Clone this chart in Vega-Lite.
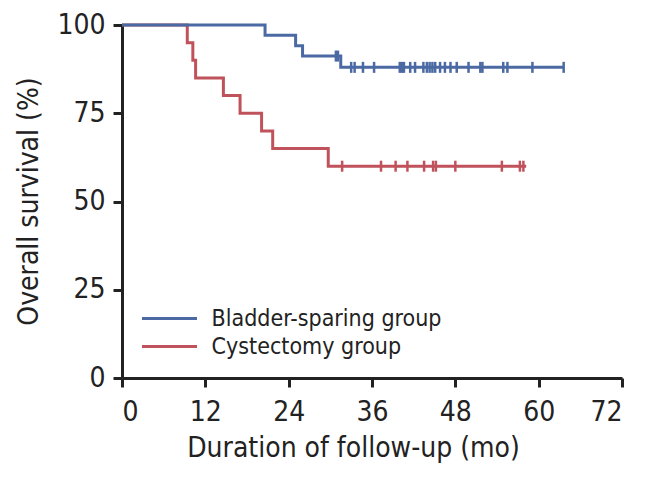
{
  "$schema": "https://vega.github.io/schema/vega-lite/v6.json",
  "width": 500,
  "height": 353,
  "autosize": {"type": "none"},
  "padding": {"left": 122, "top": 25, "right": 27, "bottom": 99},
  "background": "white",
  "config": {
    "font": "Liberation Sans Narrow, DejaVu Sans Condensed, Roboto",
    "view": {"stroke": null},
    "axis": {
      "domainColor": "#222222", "domainWidth": 3, "tickColor": "#222222", "tickWidth": 3, "tickSize": 9,
      "labelColor": "#222222", "titleColor": "#222222", "labelFontSize": 28, "titleFontSize": 28,
      "labelFont": "Liberation Sans Narrow, DejaVu Sans Condensed, Roboto",
      "titleFont": "Liberation Sans Narrow, DejaVu Sans Condensed, Roboto",
      "titleFontWeight": "normal", "grid": false
    }
  },
  "datasets": {
    "curves": [
      {"group": "Bladder-sparing group", "time": 0, "surv": 100},
      {"group": "Bladder-sparing group", "time": 20.6, "surv": 97.1},
      {"group": "Bladder-sparing group", "time": 25.0, "surv": 94.1},
      {"group": "Bladder-sparing group", "time": 26.0, "surv": 91.2},
      {"group": "Bladder-sparing group", "time": 31.5, "surv": 88.0},
      {"group": "Bladder-sparing group", "time": 63.6, "surv": 88.0},
      {"group": "Cystectomy group", "time": 0, "surv": 100},
      {"group": "Cystectomy group", "time": 9.4, "surv": 95},
      {"group": "Cystectomy group", "time": 10.2, "surv": 90},
      {"group": "Cystectomy group", "time": 10.6, "surv": 85},
      {"group": "Cystectomy group", "time": 14.6, "surv": 80},
      {"group": "Cystectomy group", "time": 17.0, "surv": 75},
      {"group": "Cystectomy group", "time": 20.1, "surv": 70},
      {"group": "Cystectomy group", "time": 21.7, "surv": 65},
      {"group": "Cystectomy group", "time": 29.7, "surv": 60},
      {"group": "Cystectomy group", "time": 58.2, "surv": 60}
    ],
    "censors": [
      {"group": "Bladder-sparing group", "time": 30.8, "surv": 91.2},
      {"group": "Bladder-sparing group", "time": 31.1, "surv": 91.2},
      {"group": "Bladder-sparing group", "time": 33.0, "surv": 88.0},
      {"group": "Bladder-sparing group", "time": 33.5, "surv": 88.0},
      {"group": "Bladder-sparing group", "time": 34.7, "surv": 88.0},
      {"group": "Bladder-sparing group", "time": 36.3, "surv": 88.0},
      {"group": "Bladder-sparing group", "time": 40.0, "surv": 88.0},
      {"group": "Bladder-sparing group", "time": 40.3, "surv": 88.0},
      {"group": "Bladder-sparing group", "time": 40.6, "surv": 88.0},
      {"group": "Bladder-sparing group", "time": 41.5, "surv": 88.0},
      {"group": "Bladder-sparing group", "time": 42.2, "surv": 88.0},
      {"group": "Bladder-sparing group", "time": 43.4, "surv": 88.0},
      {"group": "Bladder-sparing group", "time": 43.9, "surv": 88.0},
      {"group": "Bladder-sparing group", "time": 44.3, "surv": 88.0},
      {"group": "Bladder-sparing group", "time": 44.7, "surv": 88.0},
      {"group": "Bladder-sparing group", "time": 45.1, "surv": 88.0},
      {"group": "Bladder-sparing group", "time": 45.8, "surv": 88.0},
      {"group": "Bladder-sparing group", "time": 46.5, "surv": 88.0},
      {"group": "Bladder-sparing group", "time": 47.3, "surv": 88.0},
      {"group": "Bladder-sparing group", "time": 48.2, "surv": 88.0},
      {"group": "Bladder-sparing group", "time": 49.9, "surv": 88.0},
      {"group": "Bladder-sparing group", "time": 51.6, "surv": 88.0},
      {"group": "Bladder-sparing group", "time": 51.9, "surv": 88.0},
      {"group": "Bladder-sparing group", "time": 54.9, "surv": 88.0},
      {"group": "Bladder-sparing group", "time": 55.5, "surv": 88.0},
      {"group": "Bladder-sparing group", "time": 59.1, "surv": 88.0},
      {"group": "Bladder-sparing group", "time": 63.6, "surv": 88.0},
      {"group": "Cystectomy group", "time": 31.7, "surv": 60},
      {"group": "Cystectomy group", "time": 37.3, "surv": 60},
      {"group": "Cystectomy group", "time": 39.4, "surv": 60},
      {"group": "Cystectomy group", "time": 41.1, "surv": 60},
      {"group": "Cystectomy group", "time": 43.5, "surv": 60},
      {"group": "Cystectomy group", "time": 44.8, "surv": 60},
      {"group": "Cystectomy group", "time": 45.2, "surv": 60},
      {"group": "Cystectomy group", "time": 48.0, "surv": 60},
      {"group": "Cystectomy group", "time": 54.7, "surv": 60},
      {"group": "Cystectomy group", "time": 57.3, "surv": 60},
      {"group": "Cystectomy group", "time": 57.8, "surv": 60}
    ]
  },
  "layer": [
    {
      "data": {"name": "curves"},
      "transform": [{"filter": "datum.group === 'Cystectomy group'"}],
      "mark": {"type": "line", "interpolate": "step-after", "strokeWidth": 3},
      "encoding": {
        "x": {"field": "time", "type": "quantitative", "scale": {"domain": [0, 72], "nice": false},
          "axis": {"values": [0, 12, 24, 36, 48, 60, 72], "title": "Duration of follow-up (mo)", "labelPadding": 11,
            "titleX": 231, "titleY": 70, "titleBaseline": "middle", "titleAnchor": null}},
        "y": {"field": "surv", "type": "quantitative", "scale": {"domain": [0, 100], "nice": false},
          "axis": {"values": [0, 25, 50, 75, 100], "title": "Overall survival (%)", "labelPadding": 8,
            "titleX": -93, "titleY": 176, "titleAngle": 270, "titleBaseline": "middle", "titleAlign": "center"}},
        "color": {"field": "group", "type": "nominal",
          "scale": {"domain": ["Bladder-sparing group", "Cystectomy group"], "range": ["#4b69a3", "#c0525c"]},
          "legend": {"title": null, "orient": "none", "legendX": 36, "legendY": 282, "symbolType": "M-4,0H4",
            "symbolSize": 189, "symbolStrokeWidth": 3, "labelFontSize": 23, "labelColor": "#222222", "labelLimit": 0,
            "labelFont": "Liberation Sans Narrow, DejaVu Sans Condensed, Roboto", "labelOffset": 30.6, "padding": 0, "rowPadding": 4}}
      }
    },
    {
      "data": {"name": "curves"},
      "transform": [{"filter": "datum.group === 'Bladder-sparing group'"}],
      "mark": {"type": "line", "interpolate": "step-after", "strokeWidth": 3},
      "encoding": {
        "x": {"field": "time", "type": "quantitative"},
        "y": {"field": "surv", "type": "quantitative"},
        "color": {"field": "group", "type": "nominal"}
      }
    },
    {
      "data": {"name": "censors"},
      "mark": {"type": "tick", "orient": "vertical", "size": 11, "thickness": 2.5, "opacity": 1},
      "encoding": {
        "x": {"field": "time", "type": "quantitative"},
        "y": {"field": "surv", "type": "quantitative"},
        "color": {"field": "group", "type": "nominal"}
      }
    }
  ]
}
